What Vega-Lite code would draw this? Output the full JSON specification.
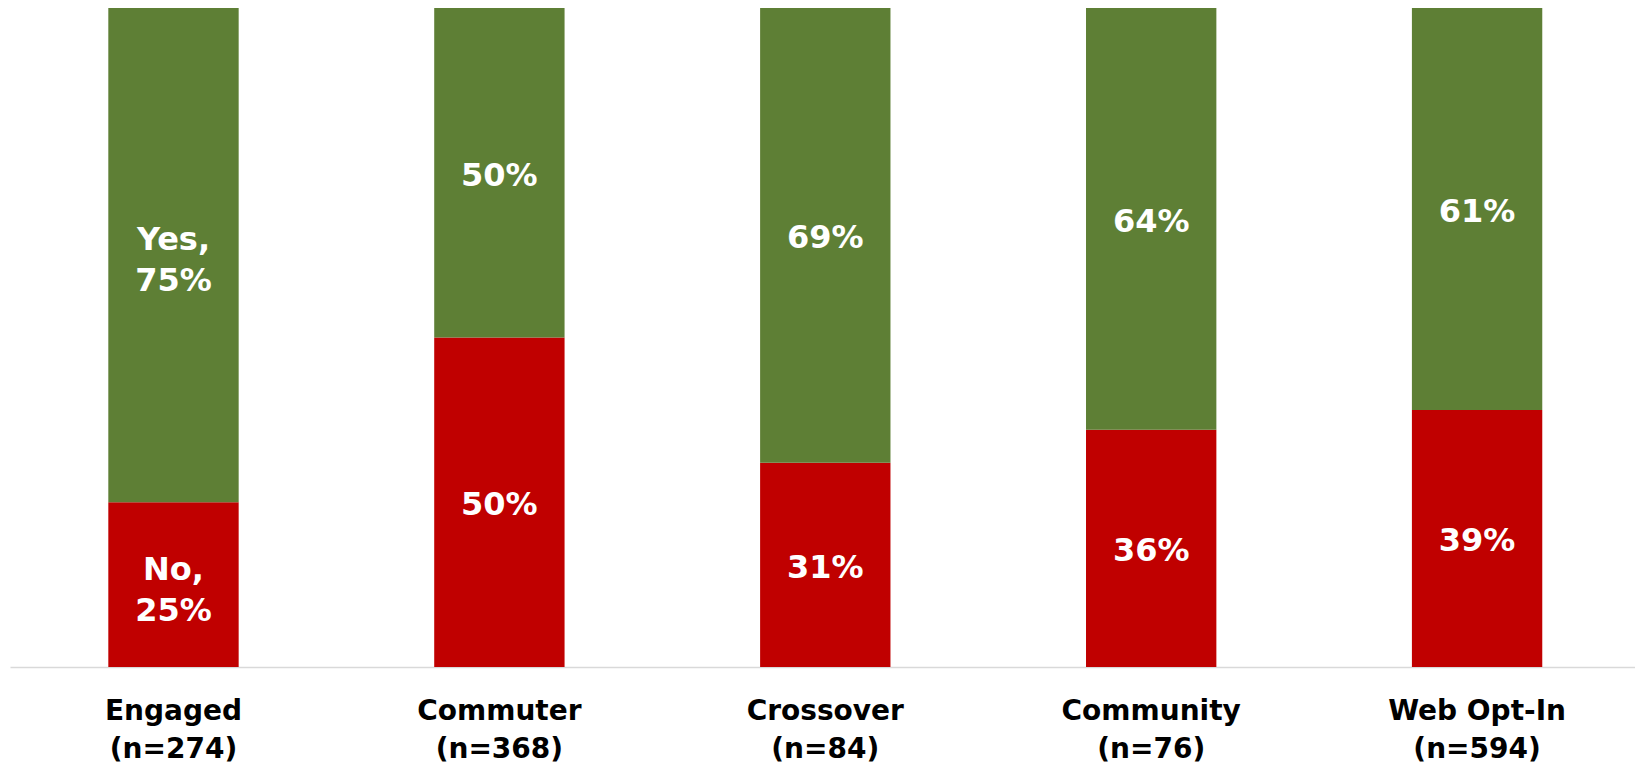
{
  "$schema": "https://vega.github.io/schema/vega-lite/v6.json",
  "width": 1625,
  "height": 659,
  "autosize": {"type": "none"},
  "padding": {"left": 10, "top": 8, "right": 0, "bottom": 99},
  "background": "white",
  "data": {
    "values": [
      {"group": "Engaged\n(n=274)", "answer": "No", "pct": 0.25, "label": "No,\n25%"},
      {"group": "Engaged\n(n=274)", "answer": "Yes", "pct": 0.75, "label": "Yes,\n75%"},
      {"group": "Commuter\n(n=368)", "answer": "No", "pct": 0.50, "label": "50%"},
      {"group": "Commuter\n(n=368)", "answer": "Yes", "pct": 0.50, "label": "50%"},
      {"group": "Crossover\n(n=84)", "answer": "No", "pct": 0.31, "label": "31%"},
      {"group": "Crossover\n(n=84)", "answer": "Yes", "pct": 0.69, "label": "69%"},
      {"group": "Community\n(n=76)", "answer": "No", "pct": 0.36, "label": "36%"},
      {"group": "Community\n(n=76)", "answer": "Yes", "pct": 0.64, "label": "64%"},
      {"group": "Web Opt-In\n(n=594)", "answer": "No", "pct": 0.39, "label": "39%"},
      {"group": "Web Opt-In\n(n=594)", "answer": "Yes", "pct": 0.61, "label": "61%"}
    ]
  },
  "transform": [
    {"stack": "pct", "groupby": ["group"], "sort": [{"field": "answer"}], "as": ["y0", "y1"]},
    {"calculate": "(datum.y0 + datum.y1) / 2", "as": "ymid"}
  ],
  "encoding": {
    "x": {
      "field": "group",
      "type": "nominal",
      "sort": null,
      "scale": {"paddingInner": 0.6, "paddingOuter": 0.2931, "align": 0.5146},
      "axis": {
        "title": null,
        "labelAngle": 0,
        "ticks": false,
        "grid": false,
        "domainColor": "#D9D9D9",
        "domainWidth": 1.5,
        "labelFont": "DejaVu Sans",
        "labelFontWeight": "bold",
        "labelFontSize": 28,
        "labelColor": "black",
        "labelPadding": 30,
        "labelLineHeight": 38,
        "labelLimit": 0,
        "labelExpr": "split(datum.label, '\\n')"
      }
    }
  },
  "layer": [
    {
      "mark": {"type": "bar"},
      "encoding": {
        "y": {"field": "y0", "type": "quantitative", "scale": {"domain": [0, 1], "nice": false}, "axis": null},
        "y2": {"field": "y1"},
        "color": {
          "field": "answer",
          "type": "nominal",
          "scale": {"domain": ["No", "Yes"], "range": ["#C00000", "#5E7F35"]},
          "legend": null
        }
      }
    },
    {
      "transform": [{"filter": "indexof(datum.label, '\\n') < 0"}],
      "mark": {
        "type": "text",
        "color": "white",
        "font": "DejaVu Sans",
        "fontWeight": "bold",
        "fontSize": 32,
        "baseline": "middle",
        "align": "center",
        "dy": 3
      },
      "encoding": {
        "y": {"field": "ymid", "type": "quantitative"},
        "text": {"field": "label"}
      }
    },
    {
      "transform": [{"filter": "indexof(datum.label, '\\n') >= 0"}],
      "mark": {
        "type": "text",
        "color": "white",
        "font": "DejaVu Sans",
        "fontWeight": "bold",
        "fontSize": 32,
        "lineHeight": 41,
        "lineBreak": "\n",
        "baseline": "middle",
        "align": "center",
        "dy": -15
      },
      "encoding": {
        "y": {"field": "ymid", "type": "quantitative"},
        "text": {"field": "label"}
      }
    }
  ],
  "config": {"view": {"stroke": null}}
}
